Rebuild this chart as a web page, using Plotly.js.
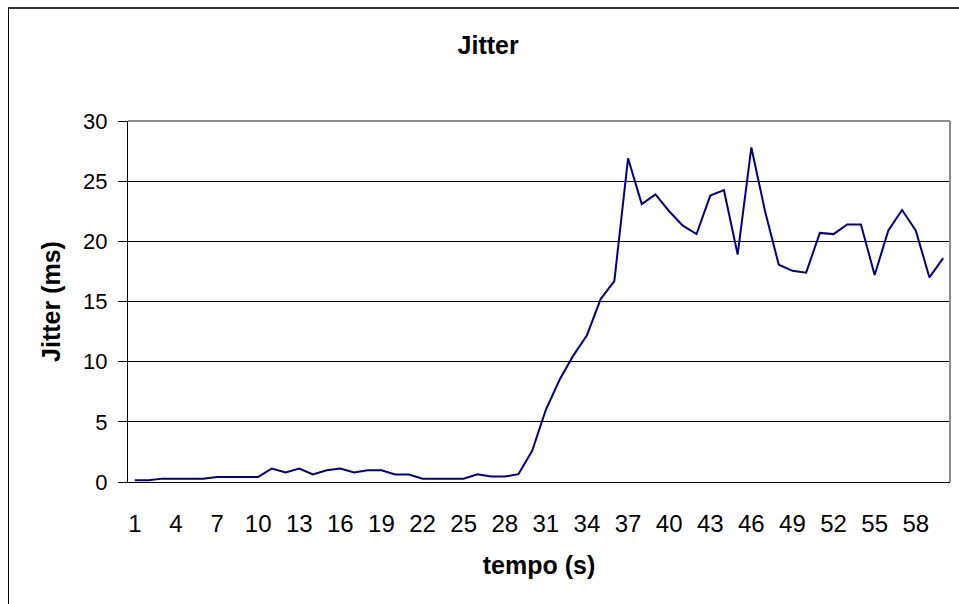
<!DOCTYPE html>
<html>
<head>
<meta charset="utf-8">
<script src="https://cdn.plot.ly/plotly-3.0.1.min.js"></script>
<style>
  html, body { margin: 0; padding: 0; background: #fff; overflow: hidden; width: 959px; height: 604px; }
  #chart { position: absolute; left: 0; top: 0; width: 959px; height: 604px; }
  #frame { position: absolute; left: 8px; top: 7px; width: 2000px; height: 2000px;
           border-left: 1px solid #000; border-top: 2px solid #333; pointer-events: none; }
</style>
</head>
<body>
<div id="chart"></div>
<div id="frame"></div>
<script>
// ---- data ----
const categories = [1,2,3,4,5,6,7,8,9,10,11,12,13,14,15,16,17,18,19,20,
                    21,22,23,24,25,26,27,28,29,30,31,32,33,34,35,36,37,38,39,40,
                    41,42,43,44,45,46,47,48,49,50,51,52,53,54,55,56,57,58,59,60];
const jitter = [0.15,0.15,0.28,0.28,0.28,0.28,0.42,0.42,0.42,0.42,
                1.12,0.79,1.12,0.62,0.98,1.12,0.79,0.98,0.98,0.62,
                0.62,0.28,0.28,0.28,0.28,0.65,0.45,0.45,0.65,2.6,
                6.0,8.5,10.5,12.2,15.2,16.7,26.9,23.1,23.9,22.5,
                21.3,20.6,23.8,24.25,18.9,27.8,22.5,18.06,17.55,17.4,
                20.7,20.6,21.4,21.4,17.2,20.9,22.6,20.9,17.0,18.6];
const tickPositions = [1,4,7,10,13,16,19,22,25,28,31,34,37,40,43,46,49,52,55,58];
const tickLabels = ["1","4","7","10","13","16","19","22","25","28","31","34","37","40","43","46","49","52","55","58"];
const chartTitle = "Jitter";
const xTitle = "tempo (s)";
const yTitle = "Jitter (ms)";

// category boundaries for tick marks
const boundaries = categories.map(c => c - 0.5).concat([categories[categories.length - 1] + 0.5]);
const xRange = [categories[0] - 0.5, categories[categories.length - 1] + 0.5];

const FONT = "Liberation Sans, Arial, sans-serif";
const NARROW = "Liberation Sans Narrow, Arial Narrow, Liberation Sans, sans-serif";

const traces = [{
  x: categories,
  y: jitter,
  type: "scatter",
  mode: "lines",
  line: { color: "#000080", width: 2 },
  hoverinfo: "x+y",
  showlegend: false
}];

const layout = {
  width: 959,
  height: 604,
  margin: { l: 128, r: 9, t: 121, b: 122 },
  paper_bgcolor: "#fff",
  plot_bgcolor: "#fff",
  font: { family: FONT, color: "#000", size: 22 },
  title: {
    text: chartTitle,
    font: { family: FONT, size: 25, weight: "bold", color: "#000" },
    xref: "container", x: 0.509, xanchor: "center",
    yref: "container", y: 0.925, yanchor: "middle"
  },
  xaxis: {
    range: xRange,
    tickmode: "array",
    tickvals: tickPositions,
    ticktext: tickLabels,
    ticks: "",
    showline: true, linecolor: "#000", linewidth: 1,
    showgrid: false, zeroline: false,
    tickfont: { family: NARROW, size: 24, color: "#000" },
    ticklabelstandoff: 20,
    title: { text: xTitle, font: { family: FONT, size: 25, weight: "bold", color: "#000" }, standoff: 20 }
  },
  xaxis2: {
    overlaying: "x", anchor: "y", side: "bottom",
    range: xRange,
    tickmode: "array",
    tickvals: boundaries,
    showticklabels: false,
    ticks: "outside", ticklen: 8, tickwidth: 1, tickcolor: "#000",
    showline: false, showgrid: false, zeroline: false
  },
  yaxis: {
    range: [0, 30],
    tickmode: "linear", tick0: 0, dtick: 5,
    ticks: "outside", ticklen: 9, tickwidth: 1, tickcolor: "#000",
    showline: true, linecolor: "#000", linewidth: 1,
    showgrid: true, gridcolor: "#000", gridwidth: 1,
    zeroline: false,
    tickfont: { family: FONT, size: 22, color: "#000" },
    ticklabelstandoff: 6,
    title: { text: yTitle, font: { family: FONT, size: 25, weight: "bold", color: "#000" }, standoff: 15 }
  },
  shapes: [
    { type: "line", xref: "paper", yref: "paper", x0: 0, x1: 1, y0: 1, y1: 1,
      line: { color: "#8c8c8c", width: 2 }, layer: "above" },
    { type: "line", xref: "paper", yref: "paper", x0: 1, x1: 1, y0: 0, y1: 1,
      line: { color: "#8c8c8c", width: 2 }, layer: "above" }
  ]
};

Plotly.newPlot("chart", traces, layout, { displayModeBar: false, staticPlot: true });
</script>
</body>
</html>
